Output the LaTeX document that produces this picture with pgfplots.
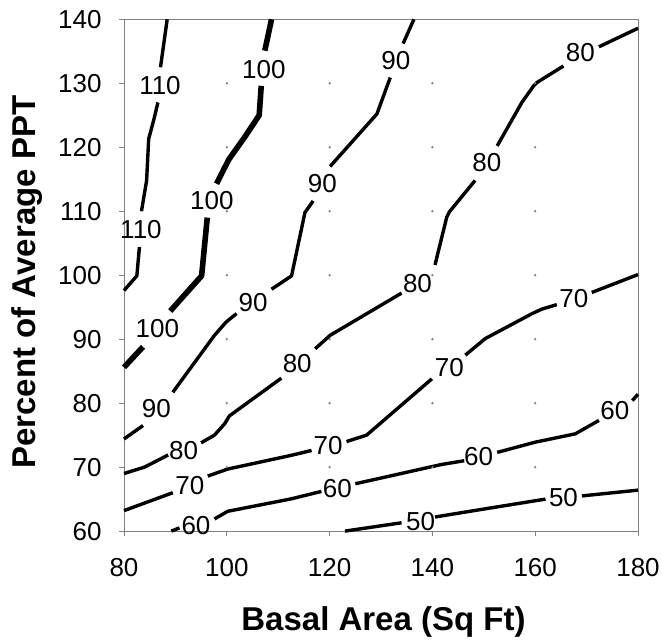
\documentclass[border=0pt]{standalone}
\usepackage{fontspec}
\setmainfont{Liberation Sans}
\usepackage{pgfplots}
\pgfplotsset{compat=1.18}
\definecolor{frame}{RGB}{128,128,128}
\newcommand\lbl{\fontsize{13}{15}\selectfont}
\begin{document}
\begin{tikzpicture}
\begin{axis}[
    name=ax,
    scale only axis,
    width=257pt,height=255.9pt,
    xmin=80,xmax=180,ymin=60,ymax=140,
    xtick={80,100,...,180},
    ytick={60,70,...,140},
    tick pos=left,tick align=outside,
    major tick length=2.5pt,
    axis line style={frame,line width=0.5pt},
    tick style={frame,line width=0.5pt},
    /pgf/number format/assume math mode=true,
    ticklabel style={font=\lbl,inner sep=0pt},
    xticklabel style={yshift=-11pt},
    yticklabel style={xshift=-8.5pt},
    clip=false,
    contour/.style={black,line width=1.7pt,line join=round},
]
% grid dots at the interior intersections
\addplot[only marks,mark=*,mark size=0.35pt,gray] coordinates {
  (100,70) (100,80) (100,90) (100,100) (100,110) (100,120) (100,130)
  (120,70) (120,80) (120,90) (120,100) (120,110) (120,120) (120,130)
  (140,70) (140,80) (140,90) (140,100) (140,110) (140,120) (140,130)
  (160,70) (160,80) (160,90) (160,100) (160,110) (160,120) (160,130)};

% 110
\addplot[contour] coordinates {(88.4,140) (87.1,132.5)};
\addplot[contour] coordinates {(86.6,127.0) (85.8,124.3) (84.8,121.3) (84.4,114.8) (83.4,110.0)};
\addplot[contour] coordinates {(83.0,104.4) (82.5,99.9) (80,97.6)};
% 100 (heavier)
\addplot[contour,line width=2.8pt] coordinates {(108.7,140) (107.4,135.1)};
\addplot[contour,line width=2.8pt] coordinates {(106.7,129.6) (106.3,125.0) (103.5,121.6) (100.4,118.1) (98.0,114.3)};
\addplot[contour,line width=2.8pt] coordinates {(96.2,109.0) (95.1,99.9) (89.0,94.4)};
\addplot[contour,line width=2.8pt] coordinates {(83.7,88.8) (80,85.6)};
% 90
\addplot[contour] coordinates {(136.4,140) (134.3,136.2)};
\addplot[contour] coordinates {(131.8,130.9) (129.2,125.2) (128.2,124.3) (120.1,117.0)};
\addplot[contour] coordinates {(116.8,111.6) (115.2,109.8) (112.6,99.9) (108.7,97.8)};
\addplot[contour] coordinates {(101.9,94.0) (99.9,92.7) (97.6,90.6) (89.5,81.7)};
\addplot[contour] coordinates {(83.7,76.5) (80,74.4)};
% 80
\addplot[contour] coordinates {(180,138.6) (172.4,135.7)};
\addplot[contour] coordinates {(165.5,132.7) (160.3,130.1) (159.7,129.6) (157.4,127.0) (152.6,120.2)};
\addplot[contour] coordinates {(148.3,114.8) (143.3,109.9) (142.8,109.1) (140.5,101.6)};
\addplot[contour] coordinates {(134.0,97.2) (120.1,90.6) (117.2,88.5)};
\addplot[contour] coordinates {(110.6,83.9) (100.5,78.0) (99.6,76.8) (97.6,75.0) (95.0,73.8)};
\addplot[contour] coordinates {(88.6,71.9) (84.0,70.0) (80,69.0)};
% 70
\addplot[contour] coordinates {(180,100.1) (171.0,97.3)};
\addplot[contour] coordinates {(164.2,95.4) (161.3,94.7) (159.4,94.0) (150.3,90.1) (146.4,87.5)};
\addplot[contour] coordinates {(139.9,83.8) (127.2,75.0) (123.3,74.0)};
\addplot[contour] coordinates {(116.5,72.6) (112.3,71.8) (100.2,69.7) (96.3,68.6)};
\addplot[contour] coordinates {(89.5,66.0) (80,63.2)};
% 60
\addplot[contour] coordinates {(178.9,80.4) (180,81.4)};
\addplot[contour] coordinates {(172.4,77.3) (167.8,75.2) (160.0,73.9) (152.6,72.3)};
\addplot[contour] coordinates {(146.2,71.0) (141.7,70.4) (131.7,68.6) (125.0,67.4)};
\addplot[contour] coordinates {(118.4,66.2) (112.3,65.0) (100.2,63.1) (97.6,61.9)};
\addplot[contour] coordinates {(89.2,60.0) (90.8,60.5)};
% 50
\addplot[contour] coordinates {(180,66.4) (169.1,65.5)};
\addplot[contour] coordinates {(162.0,65.0) (145.8,62.9) (140.5,62.2)};
\addplot[contour] coordinates {(134.0,61.3) (123.0,60.0)};

% contour labels
\node[font=\lbl] at (axis cs:87.0,129.6) {110};
\node[font=\lbl] at (axis cs:83.3,107.2) {110};
\node[font=\lbl] at (axis cs:107.2,132.2) {100};
\node[font=\lbl] at (axis cs:97.1,111.7) {100};
\node[font=\lbl] at (axis cs:86.5,91.6) {100};
\node[font=\lbl] at (axis cs:132.9,133.5) {90};
\node[font=\lbl] at (axis cs:118.6,114.4) {90};
\node[font=\lbl] at (axis cs:105.1,95.8) {90};
\node[font=\lbl] at (axis cs:86.3,79.1) {90};
\node[font=\lbl] at (axis cs:168.8,134.8) {80};
\node[font=\lbl] at (axis cs:150.6,117.6) {80};
\node[font=\lbl] at (axis cs:137.1,98.7) {80};
\node[font=\lbl] at (axis cs:113.7,86.2) {80};
\node[font=\lbl] at (axis cs:91.6,72.6) {80};
\node[font=\lbl] at (axis cs:167.5,96.4) {70};
\node[font=\lbl] at (axis cs:143.3,85.5) {70};
\node[font=\lbl] at (axis cs:119.7,73.4) {70};
\node[font=\lbl] at (axis cs:92.8,67.1) {70};
\node[font=\lbl] at (axis cs:175.5,78.9) {60};
\node[font=\lbl] at (axis cs:149.0,71.6) {60};
\node[font=\lbl] at (axis cs:121.5,66.6) {60};
\node[font=\lbl] at (axis cs:94.0,60.9) {60};
\node[font=\lbl] at (axis cs:165.5,65.2) {50};
\node[font=\lbl] at (axis cs:137.7,61.5) {50};
\end{axis}
\node[anchor=base,font=\bfseries\fontsize{16.5}{19}\selectfont]
  at ([xshift=1.25pt,yshift=-49.5pt]ax.south) {Basal Area (Sq Ft)};
\node[anchor=base,rotate=90,font=\bfseries\fontsize{16.5}{19}\selectfont]
  at ([xshift=-44pt,yshift=-3.5pt]ax.west) {Percent of Average PPT};
\path ([xshift=-62pt,yshift=-53pt]ax.south west) rectangle ([xshift=12pt,yshift=9.65pt]ax.north east);
\end{tikzpicture}
\end{document}
